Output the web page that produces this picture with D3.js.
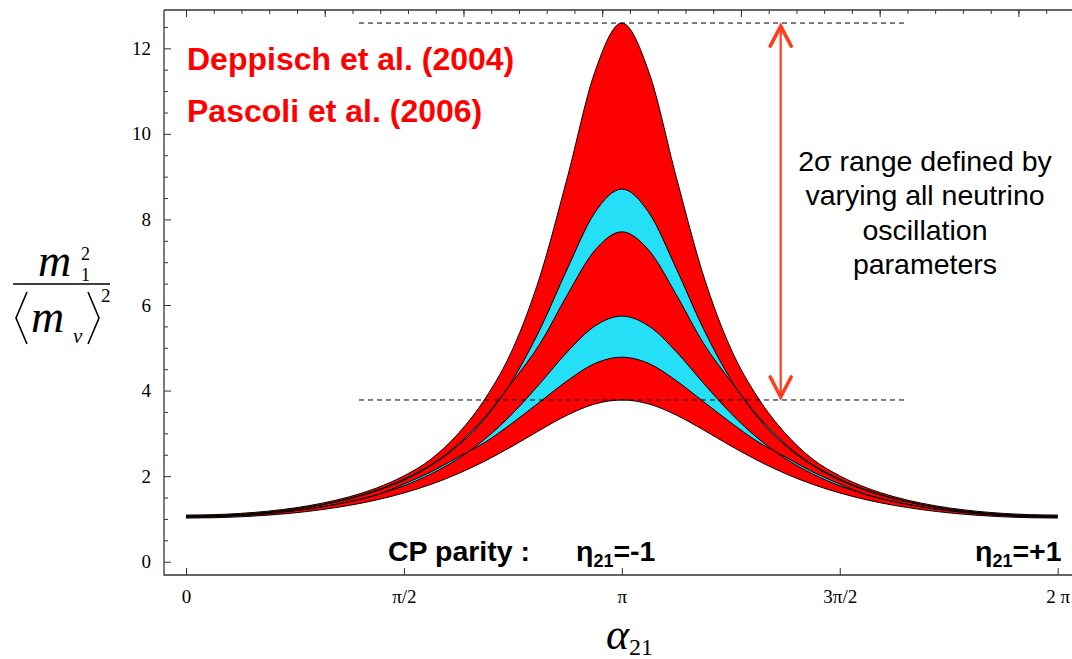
<!DOCTYPE html>
<html><head><meta charset="utf-8">
<script src="https://cdn.jsdelivr.net/npm/d3@7"></script>
<style>body{margin:0;background:#fff}svg{display:block}</style>
</head><body>
<svg id="c" width="1072" height="659"></svg>
<script>
const PI = Math.PI;
// alpha_21 sample positions (in units of pi)
const alphaOverPi = [0,0.0625,0.125,0.1875,0.25,0.3125,0.375,0.4375,0.5,0.5625,0.625,0.6875,0.75,0.8125,0.875,0.9375,1,
  1.0625,1.125,1.1875,1.25,1.3125,1.375,1.4375,1.5,1.5625,1.625,1.6875,1.75,1.8125,1.875,1.9375,2];
// six boundary curves of m1^2/<m>^2
const curve1 = [1.02,1.027,1.049,1.087,1.142,1.218,1.317,1.444,1.607,1.809,2.060,2.361,2.707,3.078,3.427,3.684,3.78,
  3.684,3.427,3.078,2.707,2.361,2.060,1.809,1.607,1.444,1.317,1.218,1.142,1.087,1.049,1.027,1.02];
const curve2 = [1.04,1.050,1.078,1.124,1.192,1.283,1.403,1.560,1.815,2.100,2.450,2.800,3.250,3.740,4.230,4.630,4.78,
  4.630,4.230,3.740,3.250,2.800,2.450,2.100,1.815,1.560,1.403,1.283,1.192,1.124,1.078,1.050,1.04];
const curve3 = [1.05,1.058,1.084,1.128,1.193,1.283,1.404,1.564,1.775,2.052,2.413,2.881,3.470,4.170,4.906,5.504,5.74,
  5.504,4.906,4.170,3.470,2.881,2.413,2.052,1.775,1.564,1.404,1.283,1.193,1.128,1.084,1.058,1.05];
const curve4 = [1.06,1.071,1.101,1.152,1.228,1.335,1.480,1.672,1.930,2.270,2.750,3.400,4.220,5.100,6.240,7.272,7.71,
  7.272,6.240,5.100,4.220,3.400,2.750,2.270,1.930,1.672,1.480,1.335,1.228,1.152,1.101,1.071,1.06];
const curve5 = [1.07,1.079,1.107,1.155,1.228,1.329,1.467,1.654,1.906,2.249,2.719,3.367,4.258,5.438,6.849,8.151,8.71,
  8.151,6.849,5.438,4.258,3.367,2.719,2.249,1.906,1.654,1.467,1.329,1.228,1.155,1.107,1.079,1.07];
const curve6 = [1.09,1.100,1.129,1.181,1.258,1.368,1.518,1.724,2.006,2.400,3.000,3.830,4.980,6.680,8.983,11.431,12.59,
  11.431,8.983,6.680,4.980,3.830,3.000,2.400,2.006,1.724,1.518,1.368,1.258,1.181,1.129,1.100,1.09];

const xTickValues = [0, PI/2, PI, 3*PI/2, 2*PI];
const xTickLabels = ["0","\u03c0/2","\u03c0","3\u03c0/2","2 \u03c0"];
const yTickValues = [0,2,4,6,8,10,12];
const yMinorTicks = [0.5,1,1.5,2.5,3,3.5,4.5,5,5.5,6.5,7,7.5,8.5,9,9.5,10.5,11,11.5,12.5];
const topMinorTicks = [0,0.2,0.4,0.6,0.8,1,1.2,1.4,1.6,1.8,2,2.2,2.4,2.6,2.8,3,3.2,3.4,3.6,3.8,4,4.2,4.4,4.6,4.8,5,5.2,5.4,5.6,5.8,6,6.2];
const topMajorTicks = [0,1,2,3,4,5,6];

const svg = d3.select('#c');
const x = d3.scaleLinear().domain([0, 2*PI]).range([186, 1057.7]);
const y = d3.scaleLinear().domain([0, 12]).range([561.7, 48.3]);
const RED = '#ff0000', CYAN = '#24dff5', ARROW = '#ff3c1e';

svg.append('defs').append('clipPath').attr('id','clip')
  .append('rect').attr('x',164).attr('y',10).attr('width',908).attr('height',565);
const plot = svg.append('g').attr('clip-path','url(#clip)');

const ax = (d,i) => x(alphaOverPi[i]*PI);
function band(lo, hi){
  return d3.area().x(ax).y0((d,i)=>y(lo[i])).y1((d,i)=>y(hi[i])).curve(d3.curveMonotoneX)(alphaOverPi);
}
plot.append('path').attr('d', band(curve1, curve6)).attr('fill', RED);
plot.append('path').attr('d', band(curve2, curve3)).attr('fill', CYAN);
plot.append('path').attr('d', band(curve4, curve5)).attr('fill', CYAN);
[curve1,curve2,curve3,curve4,curve5,curve6].forEach(c=>{
  plot.append('path')
    .attr('d', d3.line().x(ax).y((d,i)=>y(c[i])).curve(d3.curveMonotoneX)(alphaOverPi))
    .attr('fill','none').attr('stroke','#000').attr('stroke-width',1);
});

// dashed reference lines at the extreme peaks
const peakHi = d3.max(curve6), peakLo = d3.max(curve1);
[peakHi, peakLo].forEach(v=>{
  svg.append('line').attr('x1',359).attr('x2',904).attr('y1',y(v)).attr('y2',y(v))
    .attr('stroke','#000').attr('stroke-width',1).attr('stroke-dasharray','5,4');
});

// axes
const axisColor = '#333';
function styleAxis(g, fs){
  g.select('.domain').remove();
  g.selectAll('.tick line').attr('stroke', axisColor).attr('stroke-width',1);
  g.selectAll('.tick text').attr('font-family','"Liberation Serif", "Times New Roman", serif')
    .attr('font-size', fs).attr('fill','#000');
}
const gyMinor = svg.append('g').attr('transform','translate(164,0)')
  .call(d3.axisLeft(y).tickValues(yMinorTicks).tickSize(-4).tickFormat(''));
styleAxis(gyMinor, 19);
const gy = svg.append('g').attr('transform','translate(164,0)')
  .call(d3.axisLeft(y).tickValues(yTickValues).tickSize(-7).tickPadding(13).tickFormat(d3.format('d')));
styleAxis(gy, 19);
const gx = svg.append('g').attr('transform','translate(0,575)')
  .call(d3.axisBottom(x).tickValues(xTickValues).tickSize(-7).tickPadding(15).tickFormat((d,i)=>xTickLabels[i]));
styleAxis(gx, 19);
const gtMinor = svg.append('g').attr('transform','translate(0,10)')
  .call(d3.axisTop(x).tickValues(topMinorTicks).tickSize(-4).tickFormat(''));
styleAxis(gtMinor, 19);
const gt = svg.append('g').attr('transform','translate(0,10)')
  .call(d3.axisTop(x).tickValues(topMajorTicks).tickSize(-7).tickFormat(''));
styleAxis(gt, 19);

// frame
const frame = svg.append('g').attr('stroke', axisColor).attr('stroke-width',1.3);
frame.append('line').attr('x1',164).attr('x2',164).attr('y1',10).attr('y2',575.5);
frame.append('line').attr('x1',164).attr('x2',1072).attr('y1',575).attr('y2',575);
frame.append('line').attr('x1',164).attr('x2',1072).attr('y1',10).attr('y2',10);

// x label
const serif = '"Liberation Serif", "Times New Roman", serif';
const xl = svg.append('text').attr('x',606).attr('y',649).attr('font-family',serif).attr('fill','#000');
xl.append('tspan').attr('font-style','italic').attr('font-size',44).text('\u03b1');
xl.append('tspan').attr('font-size',24).attr('dy',6).text('21');

// y label (fraction)
const yl = svg.append('g').attr('font-family',serif).attr('fill','#000');
yl.append('text').attr('x',38).attr('y',276).attr('font-style','italic').attr('font-size',46).text('m');
yl.append('text').attr('x',81).attr('y',281).attr('font-size',18).text('1');
yl.append('text').attr('x',81).attr('y',260).attr('font-size',18).text('2');
yl.append('line').attr('x1',13).attr('x2',110).attr('y1',284).attr('y2',284).attr('stroke','#000').attr('stroke-width',1.3);
yl.append('path').attr('d','M27,292L16,318L27,344').attr('fill','none').attr('stroke','#000').attr('stroke-width',1.6);
yl.append('text').attr('x',31).attr('y',332).attr('font-style','italic').attr('font-size',46).text('m');
yl.append('text').attr('x',73).attr('y',343).attr('font-style','italic').attr('font-size',21).text('\u03bd');
yl.append('path').attr('d','M88,292L99,318L88,344').attr('fill','none').attr('stroke','#000').attr('stroke-width',1.6);
yl.append('text').attr('x',101).attr('y',302).attr('font-size',19).text('2');

// red citations
const sans = '"Liberation Sans", Arial, Helvetica, sans-serif';
svg.append('text').attr('x',187).attr('y',70).attr('font-family',sans).attr('font-weight','bold')
  .attr('font-size',32).attr('fill',RED).text('Deppisch et al. (2004)');
svg.append('text').attr('x',187).attr('y',122).attr('font-family',sans).attr('font-weight','bold')
  .attr('font-size',32).attr('fill',RED).text('Pascoli et al. (2006)');

// 2 sigma annotation
const noteLines = ['2\u03c3 range defined by','varying all neutrino','oscillation','parameters'];
noteLines.forEach((t,i)=>{
  svg.append('text').attr('x',925).attr('y',171 + i*34.3).attr('text-anchor','middle')
    .attr('font-family',sans).attr('font-size',28.5).attr('fill','#000').text(t);
});
// double arrow
const ax0 = 780.7, yTop = y(peakHi)+2, yBot = y(peakLo)-2;
svg.append('line').attr('x1',ax0).attr('x2',ax0).attr('y1',yTop+2).attr('y2',yBot-2)
  .attr('stroke',ARROW).attr('stroke-width',2.2);
svg.append('path').attr('d',`M${ax0-10.5},${yTop+21}L${ax0},${yTop+1}L${ax0+10.5},${yTop+21}`)
  .attr('fill','none').attr('stroke',ARROW).attr('stroke-width',3.6).attr('stroke-linecap','round').attr('stroke-linejoin','miter');
svg.append('path').attr('d',`M${ax0-10.5},${yBot-21}L${ax0},${yBot-1}L${ax0+10.5},${yBot-21}`)
  .attr('fill','none').attr('stroke',ARROW).attr('stroke-width',3.6).attr('stroke-linecap','round').attr('stroke-linejoin','miter');

// CP parity labels
svg.append('text').attr('x',388).attr('y',561).attr('font-family',sans).attr('font-weight','bold')
  .attr('font-size',28.5).attr('fill','#000').text('CP parity :');
function eta(x0, s){
  const t = svg.append('text').attr('x',x0).attr('y',561).attr('font-family',sans).attr('font-weight','bold').attr('fill','#000');
  t.append('tspan').attr('font-size',28.5).text('\u03b7');
  t.append('tspan').attr('font-size',18).attr('dy',6).text('21');
  t.append('tspan').attr('font-size',28.5).attr('dy',-6).text(s);
}
eta(576, '=-1');
eta(975, '=+1');
</script>
</body></html>
